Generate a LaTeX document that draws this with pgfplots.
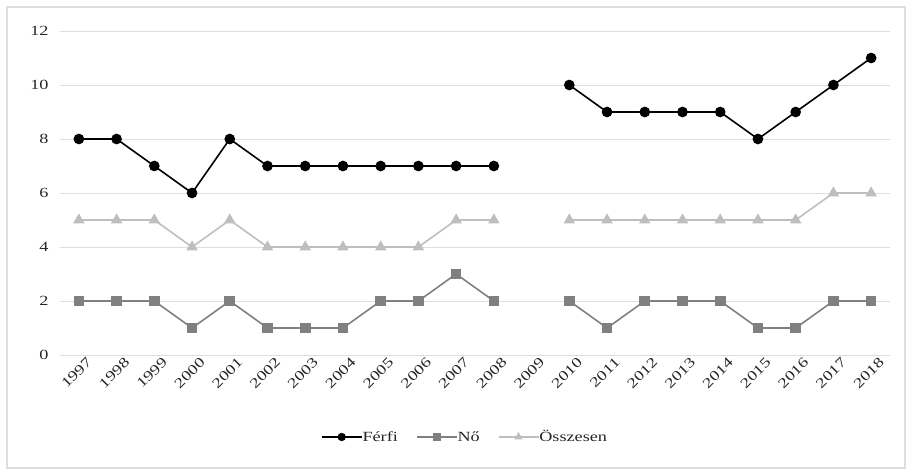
\documentclass[border=0pt]{standalone}
\usepackage{pgfplots}
\pgfplotsset{compat=1.18}
\usepackage{pgfplotstable}
\usepackage{fontspec}
\setmainfont[FakeStretch=1.3]{Liberation Serif}
\definecolor{nogray}{RGB}{128,128,128}
\definecolor{osgray}{RGB}{190,190,190}
\definecolor{gridc}{RGB}{222,222,222}
\pgfplotstableread{
x y
0 8
1 8
2 7
3 6
4 8
5 7
6 7
7 7
8 7
9 7
10 7
11 7
12 nan
13 10
14 9
15 9
16 9
17 9
18 8
19 9
20 10
21 11
}\ferfi
\pgfplotstableread{
x y
0 2
1 2
2 2
3 1
4 2
5 1
6 1
7 1
8 2
9 2
10 3
11 2
12 nan
13 2
14 1
15 2
16 2
17 2
18 1
19 1
20 2
21 2
}\no
\pgfplotstableread{
x y
0 5
1 5
2 5
3 4
4 5
5 4
6 4
7 4
8 4
9 4
10 5
11 5
12 nan
13 5
14 5
15 5
16 5
17 5
18 5
19 5
20 6
21 6
}\ossz
\begin{document}
\begin{tikzpicture}[x=1pt,y=1pt]
\path[use as bounding box] (-60,-117) rectangle (848,355);
\draw[gridc, line width=1.2pt] (-53,-113) rectangle (845,348);
\begin{axis}[
  at={(0,0)}, anchor=south west,
  scale only axis, width=830pt, height=324pt,
  xmin=-0.5, xmax=21.5, ymin=0, ymax=12,
  ytick={0,2,...,12},
  xtick={0,...,21},
  xticklabels={1997,1998,1999,2000,2001,2002,2003,2004,2005,2006,2007,2008,2009,2010,2011,2012,2013,2014,2015,2016,2017,2018},
  xticklabel style={rotate=45, anchor=north east, font=\fontsize{14}{15}\selectfont, text=black!85, inner sep=1pt, xshift=5pt, yshift=-5pt},
  yticklabel style={font=\fontsize{14}{15}\selectfont, text=black!85, xshift=-8pt},
  /pgf/number format/assume math mode=true,
  axis line style={draw=none},
  major tick length=0pt,
  ymajorgrids, grid style={gridc, line width=1pt},
  clip=false,
  unbounded coords=jump,
  legend style={at={(405pt,-82pt)}, anchor=center, draw=none, legend columns=3,
    font=\fontsize{14}{15}\selectfont, text=black!85,
    /tikz/every even column/.append style={column sep=16pt},
    /tikz/every odd column/.append style={column sep=-2pt}},
  legend image code/.code={\draw[#1, mark=none] (0pt,0pt) -- (40pt,0pt); \draw[#1, mark size=3.3pt] plot coordinates {(20pt,0pt)};},
  legend cell align=left,
]
\addplot[black, line width=1.6pt, mark=*, mark size=4.5pt] table {\ferfi};
\addlegendentry{Férfi}
\addplot[nogray, line width=1.6pt, mark=square*, mark size=4.5pt] table {\no};
\addlegendentry{Nő}
\addplot[osgray, line width=1.6pt, mark=triangle*, mark size=5pt] table {\ossz};
\addlegendentry{Összesen}
\end{axis}
\end{tikzpicture}
\end{document}
